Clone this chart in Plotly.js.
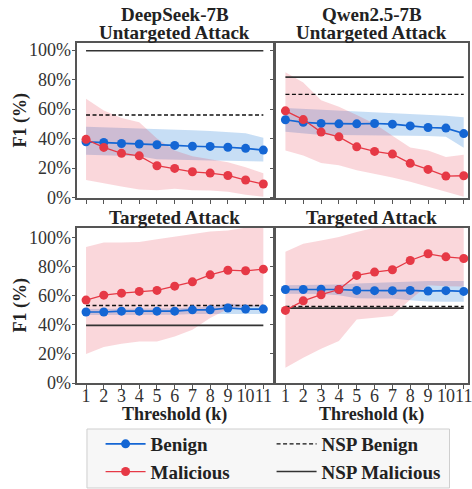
<!DOCTYPE html>
<html>
<head>
<meta charset="utf-8">
<script src="https://cdn.plot.ly/plotly-3.0.1.min.js"></script>
<style>html,body{margin:0;padding:0;background:#fff;}#chart{width:472px;height:489px;}</style>
</head>
<body>
<div id="chart"></div>
<script>
// ---- data ----
const thresholds = [1, 2, 3, 4, 5, 6, 7, 8, 9, 10, 11];

// DeepSeek-7B, untargeted
const dsUntBenign = [37.8, 37.4, 36.7, 36.3, 35.8, 35.4, 34.8, 34.7, 34.1, 33.4, 32.2];
const dsUntBenignHi = [48, 47.7, 47.3, 46.8, 46.3, 46, 45.7, 45.2, 44.6, 43.6, 40.5];
const dsUntBenignLo = [29, 28.8, 28.5, 28, 26, 25.6, 25.4, 25.2, 25, 24.8, 24.5];
const dsUntMalicious = [39.5, 34, 30, 28.3, 21.6, 19.8, 17.5, 16.6, 15, 11.9, 9.2];
const dsUntMaliciousHi = [67, 59, 54, 51, 40, 32, 28, 26, 24, 20.5, 16.5];
const dsUntMaliciousLo = [12, 9.5, 7.5, 5.5, 5, 6, 5, 4.8, 4, 2, 0.5];
const dsUntNspBenign = 56;
const dsUntNspMalicious = 99.5;

// Qwen2.5-7B, untargeted
const qwUntBenign = [52.8, 51, 50.3, 50, 50, 50.2, 49.8, 48.6, 47.5, 47.1, 43.4];
const qwUntBenignHi = [60.8, 60.2, 59.5, 58.8, 58.3, 58, 57.3, 56.8, 56, 55.5, 54.4];
const qwUntBenignLo = [44.6, 43.5, 42.4, 42.4, 42.4, 42.4, 42.3, 42, 41.7, 41.2, 33.8];
const qwUntMalicious = [58.8, 52.9, 44.4, 41.2, 34.4, 31.3, 29.5, 23.2, 19.1, 14.6, 14.8];
const qwUntMaliciousHi = [85, 78, 66, 61.5, 56, 50, 42, 34, 32, 27.5, 29];
const qwUntMaliciousLo = [32, 28.6, 23.4, 22, 18.6, 16.4, 13.7, 10.7, 7.3, 3.9, 0.5];
const qwUntNspBenign = 70;
const qwUntNspMalicious = 81.7;

// DeepSeek-7B, targeted
const dsTarBenign = [48.9, 48.9, 49.5, 49.5, 49.5, 49.5, 50.4, 50.4, 51.7, 50.9, 50.9];
const dsTarBenignHi = [51, 51, 51.3, 51.3, 51.3, 51.5, 52, 52.5, 55, 53.8, 53.5];
const dsTarBenignLo = [46.8, 46.8, 47, 47, 47, 47, 47.5, 47.5, 48, 47.5, 47.5];
const dsTarMalicious = [57.1, 60.5, 61.9, 63.1, 63.8, 66.7, 69.7, 74.5, 77.7, 77.3, 78.4];
const dsTarMaliciousHi = [93.6, 96.8, 96.8, 97.2, 99.1, 100.9, 102.7, 104.3, 105, 107, 108];
const dsTarMaliciousLo = [20, 24.8, 27, 28.6, 28.6, 32, 36.7, 44.7, 51, 52.5, 52.5];
const dsTarNspBenign = 53.4;
const dsTarNspMalicious = 39.7;

// Qwen2.5-7B, targeted
const qwTarBenign = [64.4, 64.4, 64.6, 64.4, 63.8, 63.6, 63.6, 63.8, 63.3, 63.6, 63.1];
const qwTarBenignHi = [67.4, 67.4, 67.6, 67.8, 68.5, 69, 69.3, 69.7, 70.2, 70.2, 70.2];
const qwTarBenignLo = [61.5, 61.5, 61.3, 60.5, 58.4, 58.2, 58.2, 57, 56.2, 56, 56];
const qwTarMalicious = [50, 56.6, 60.8, 64.4, 74.1, 76.4, 78, 84.4, 89, 86.9, 85.8];
const qwTarMaliciousHi = [90.4, 95.9, 98.2, 100.5, 104, 107, 108, 108, 108, 108, 108];
const qwTarMaliciousLo = [10.5, 17.4, 23.6, 28.9, 43.8, 44.9, 46.1, 57.6, 67.4, 66.7, 66.4];
const qwTarNspBenign = 52.7;
const qwTarNspMalicious = 51.6;

const yTicks = [0, 20, 40, 60, 80, 100];
const yTickText = ['0%', '20%', '40%', '60%', '80%', '100%'];

// ---- styles ----
const BLUE = '#1466d4';
const RED = '#e63946';
const BLUE_FILL = 'rgba(62,140,222,0.29)';
const RED_FILL = 'rgba(232,56,74,0.2)';
const FONT = 'Liberation Serif';

const traces = [];
function panel(ax, d, showLeg) {
  const xa = 'x' + ax, ya = 'y' + ax;
  const hidden = {mode: 'lines', line: {width: 0}, showlegend: false, hoverinfo: 'skip', xaxis: xa, yaxis: ya};
  traces.push(Object.assign({x: thresholds, y: d.bHi}, hidden));
  traces.push(Object.assign({x: thresholds, y: d.bLo, fill: 'tonexty', fillcolor: BLUE_FILL}, hidden));
  traces.push(Object.assign({x: thresholds, y: d.mHi}, hidden));
  traces.push(Object.assign({x: thresholds, y: d.mLo, fill: 'tonexty', fillcolor: RED_FILL}, hidden));
  const x0 = thresholds[0], x1 = thresholds[thresholds.length - 1];
  traces.push({x: [x0, x1], y: [d.nspB, d.nspB], mode: 'lines', name: 'NSP Benign',
    line: {color: '#111', width: 1.3, dash: '4px,2.5px'}, showlegend: showLeg, legendrank: 2, xaxis: xa, yaxis: ya});
  traces.push({x: [x0, x1], y: [d.nspM, d.nspM], mode: 'lines', name: 'NSP Malicious',
    line: {color: '#333', width: 1.6}, showlegend: showLeg, legendrank: 4, xaxis: xa, yaxis: ya});
  traces.push({x: thresholds, y: d.b, mode: 'lines+markers', name: 'Benign',
    line: {color: BLUE, width: 1.6}, marker: {color: BLUE, size: 9}, showlegend: showLeg, legendrank: 1, xaxis: xa, yaxis: ya});
  traces.push({x: thresholds, y: d.m, mode: 'lines+markers', name: 'Malicious',
    line: {color: RED, width: 1.3}, marker: {color: RED, size: 9}, showlegend: showLeg, legendrank: 3, xaxis: xa, yaxis: ya});
}

panel('', {b: dsUntBenign, bHi: dsUntBenignHi, bLo: dsUntBenignLo, m: dsUntMalicious, mHi: dsUntMaliciousHi, mLo: dsUntMaliciousLo, nspB: dsUntNspBenign, nspM: dsUntNspMalicious}, true);
panel('2', {b: qwUntBenign, bHi: qwUntBenignHi, bLo: qwUntBenignLo, m: qwUntMalicious, mHi: qwUntMaliciousHi, mLo: qwUntMaliciousLo, nspB: qwUntNspBenign, nspM: qwUntNspMalicious}, false);
panel('3', {b: dsTarBenign, bHi: dsTarBenignHi, bLo: dsTarBenignLo, m: dsTarMalicious, mHi: dsTarMaliciousHi, mLo: dsTarMaliciousLo, nspB: dsTarNspBenign, nspM: dsTarNspMalicious}, false);
panel('4', {b: qwTarBenign, bHi: qwTarBenignHi, bLo: qwTarBenignLo, m: qwTarMalicious, mHi: qwTarMaliciousHi, mLo: qwTarMaliciousLo, nspB: qwTarNspBenign, nspM: qwTarNspMalicious}, false);

const LINE = '#555';
function xax(domain, range, labels, anchor) {
  return {domain: domain, range: range, anchor: anchor, tickvals: thresholds, ticktext: thresholds.map(String),
    showticklabels: labels, ticks: 'outside', ticklen: 3.5, tickwidth: 1, tickcolor: LINE, tickangle: 0,
    ticklabelstandoff: -8, ticklabeloverflow: 'allow',
    showline: true, mirror: true, linecolor: LINE, linewidth: 2, showgrid: false, zeroline: false,
    tickfont: {family: FONT, size: 18, color: '#333'}, fixedrange: true};
}
function yax(domain, range, labels, anchor) {
  return {domain: domain, range: range, anchor: anchor, tickvals: yTicks, ticktext: yTickText,
    showticklabels: labels, ticks: 'outside', ticklen: 3.5, tickwidth: 1, tickcolor: LINE,
    ticklabelstandoff: -3, ticklabeloverflow: 'allow',
    showline: true, mirror: true, linecolor: LINE, linewidth: 2, showgrid: false, zeroline: false,
    tickfont: {family: FONT, size: 18, color: '#333'}, fixedrange: true};
}
const LX = [0, 0.5006], RX = [0.5083, 1];
const TY = [0.544, 1], BY = [0, 0.456];
const TR = [-0.3, 104.8], BR = [0, 106.8];
const LRANGE = [0.49, 11.53], RRANGE = [0.457, 11.24];

const titleFont = {family: FONT, size: 19, color: '#222', weight: 'bold'};
const axFont = {family: FONT, size: 18, color: '#222', weight: 'bold'};
function ann(text, x, y, font, extra) {
  return Object.assign({text: text, x: x, y: y, xref: 'paper', yref: 'paper', showarrow: false,
    xanchor: 'center', yanchor: 'middle', font: font}, extra || {});
}

const layout = {
  width: 472, height: 489,
  margin: {l: 77, r: 3.5, t: 43, b: 106, autoexpand: false},
  paper_bgcolor: '#fff', plot_bgcolor: '#fff',
  font: {family: FONT, color: '#222'},
  xaxis: xax(LX, LRANGE, false, 'y'), yaxis: yax(TY, TR, true, 'x'),
  xaxis2: xax(RX, RRANGE, false, 'y2'), yaxis2: yax(TY, TR, false, 'x2'),
  xaxis3: xax(LX, LRANGE, true, 'y3'), yaxis3: yax(BY, BR, true, 'x3'),
  xaxis4: xax(RX, RRANGE, true, 'y4'), yaxis4: yax(BY, BR, false, 'x4'),
  annotations: [
    ann('DeepSeek-7B', 0.2503, 1.085, titleFont),
    ann('Untargeted Attack', 0.2503, 1.03, titleFont),
    ann('Qwen2.5-7B', 0.754, 1.085, titleFont),
    ann('Untargeted Attack', 0.754, 1.03, titleFont),
    ann('Targeted Attack', 0.2503, 0.486, titleFont),
    ann('Targeted Attack', 0.754, 0.486, titleFont),
    ann('Threshold (k)', 0.2503, -0.092, axFont),
    ann('Threshold (k)', 0.754, -0.092, axFont),
    ann('F1 (%)', -0.1456, 0.772, axFont, {textangle: -90}),
    ann('F1 (%)', -0.1456, 0.228, axFont, {textangle: -90})
  ],
  shapes: [
    {type: 'rect', xref: 'paper', yref: 'paper', x0: 0.0255, x1: 0.9527, y0: -0.3088, y1: -0.1353,
     fillcolor: '#f7f7f7', line: {color: '#cfcfcf', width: 1}, layer: 'below'}
  ],
  legend: {orientation: 'h', x: 0.0603, y: -0.1235, xanchor: 'left', yanchor: 'top',
    itemwidth: 40, entrywidth: 116, entrywidthmode: 'pixels', traceorder: 'normal',
    bgcolor: 'rgba(0,0,0,0)', borderwidth: 0,
    font: {family: FONT, size: 19, color: '#222', weight: 'bold'}},
  showlegend: true
};

Plotly.newPlot('chart', traces, layout, {displayModeBar: false, staticPlot: true});
</script>
</body>
</html>
